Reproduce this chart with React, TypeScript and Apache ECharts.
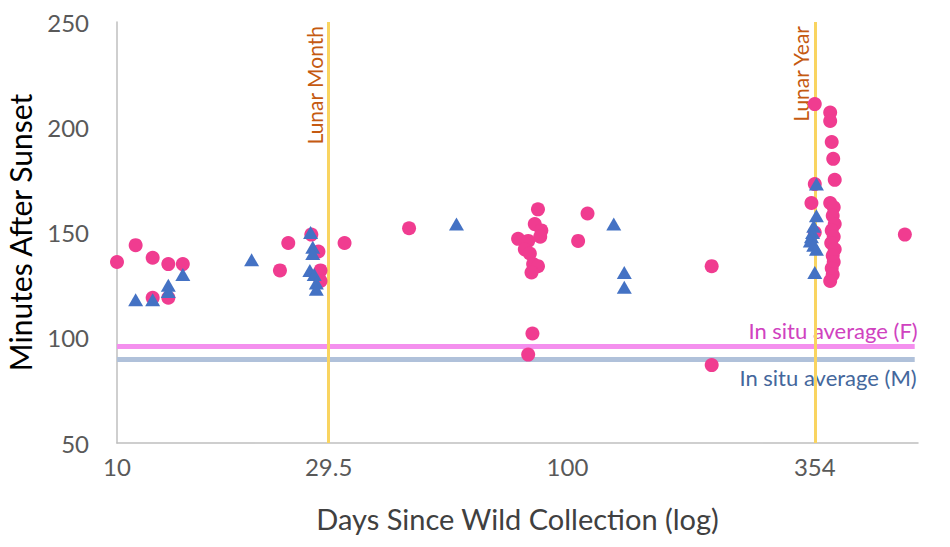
import React, { useEffect, useRef } from "react";
import * as echarts from "echarts";

const xTickValues = [10, 29.5, 100, 354];
const yTickMin = 50;
const yTickMax = 250;
const yTickStep = 50;

const lunarMonth = 29.5;
const lunarYear = 354;
const inSituFemale = 96;
const inSituMale = 90;

const femalePoints: [number, number][] = [
  [10, 136], [11, 144], [12, 138], [13, 135], [14, 135], [12, 119], [13, 119],
  [23, 132], [24, 145], [27, 149], [28, 141], [28.3, 132], [28.3, 127], [32, 145],
  [44.5, 152],
  [86, 161], [84.6, 154], [87.5, 151], [87, 148], [77.7, 147], [81.8, 146], [80.4, 142],
  [82.5, 140], [83.9, 135], [86, 134], [83.2, 131], [83.6, 102], [81.8, 92],
  [110.8, 159], [105.6, 146],
  [209, 134], [209, 87],
  [354, 211], [383, 207], [383, 203], [386, 193], [389, 185], [392, 175], [354, 173],
  [348, 164], [383, 164], [390, 162], [388, 158], [392, 154], [386, 151], [390, 148],
  [385, 145], [392, 142], [388, 139], [390, 136], [386, 133], [388, 130], [383, 127],
  [354, 150],
  [561, 149],
];

const malePoints: [number, number][] = [
  [11, 118], [12, 118], [13, 125], [13, 122], [14, 130],
  [19.9, 137],
  [26.9, 150], [27.2, 143], [27.2, 140], [26.8, 132], [27.4, 130], [27.7, 126], [27.7, 123],
  [56.7, 154], [126.7, 154], [133.7, 131], [133.7, 124],
  [357, 173], [357, 158], [352, 153], [350, 150], [348, 148], [346, 146], [352, 144],
  [357, 142], [354, 131],
];

const xMin = 10;
const xMax = 600;
const refLineEnd = 590;

const FONT = "Lato, 'Open Sans', sans-serif";

export default function App() {
  const ref = useRef<HTMLDivElement>(null);

  useEffect(() => {
    document.body.style.margin = "0";
    if (!ref.current) return;
    const chart = echarts.init(ref.current, undefined, { renderer: "svg" });
    const option: any = {
      animation: false,
      backgroundColor: "#ffffff",
      textStyle: { fontFamily: FONT },
      grid: {
        left: 117,
        right: 32,
        top: 22,
        bottom: 104,
        containLabel: false,
        outerBoundsMode: "none",
      },
      xAxis: {
        type: "log",
        logBase: 10,
        min: xMin,
        max: xMax,
        name: "Days Since Wild Collection (log)",
        nameLocation: "middle",
        nameGap: 61,
        nameTextStyle: { color: "#404040", fontSize: 29, fontFamily: FONT },
        axisLine: { show: true, onZero: false, lineStyle: { color: "#bfbfbf", width: 1.5 } },
        axisTick: { show: false },
        splitLine: { show: false },
        minorTick: { show: false },
        axisLabel: {
          customValues: xTickValues,
          formatter: (v: number) => String(Math.round(Number(v) * 10) / 10),
          color: "#595959",
          fontSize: 24,
          margin: 11,
          fontFamily: FONT,
        },
      },
      yAxis: {
        type: "value",
        min: yTickMin,
        max: yTickMax,
        interval: yTickStep,
        name: "Minutes After Sunset",
        nameLocation: "middle",
        nameGap: 82,
        nameTextStyle: { color: "#000000", fontSize: 30, fontFamily: FONT },
        axisLine: { show: true, onZero: false, lineStyle: { color: "#bfbfbf", width: 1.5 } },
        axisTick: { show: false },
        splitLine: { show: false },
        axisLabel: { color: "#595959", fontSize: 24, margin: 28, fontFamily: FONT },
      },
      series: [
        {
          type: "scatter",
          name: "refH",
          data: [],
          markLine: {
            z: 3,
            silent: true,
            symbol: ["none", "none"],
            data: [
              [
                {
                  coord: [xMin, inSituFemale],
                  lineStyle: { color: "#f490ee", width: 5, type: "solid" },
                  label: {
                    show: true,
                    position: "insideEndTop",
                    formatter: "In situ average (F)",
                    color: "#d042c0",
                    fontSize: 22,
                    fontFamily: FONT,
                    distance: 5,
                    offset: [8, 0],
                  },
                },
                { coord: [refLineEnd, inSituFemale] },
              ],
              [
                {
                  coord: [xMin, inSituMale],
                  lineStyle: { color: "#b0c1da", width: 5, type: "solid" },
                  label: {
                    show: true,
                    position: "insideEndBottom",
                    formatter: "In situ average (M)",
                    color: "#44679c",
                    fontSize: 22,
                    fontFamily: FONT,
                    distance: 8,
                    offset: [10, 0],
                  },
                },
                { coord: [refLineEnd, inSituMale] },
              ],
            ],
          },
        },
        {
          type: "scatter",
          name: "refV",
          data: [],
          markLine: {
            z: 4,
            silent: true,
            symbol: ["none", "none"],
            lineStyle: { color: "#f9d460", width: 3, type: "solid" },
            label: {
              show: true,
              position: "insideEndTop",
              color: "#c55a11",
              fontSize: 21,
              fontFamily: FONT,
              distance: 4,
            },
            data: [
              [
                { coord: [lunarMonth, yTickMin], label: { formatter: "Lunar Month" } },
                { coord: [lunarMonth, yTickMax] },
              ],
              [
                { coord: [lunarYear, yTickMin], label: { formatter: "Lunar Year" } },
                { coord: [lunarYear, yTickMax] },
              ],
            ],
          },
        },
        {
          type: "scatter",
          name: "Female",
          z: 10,
          symbol: "circle",
          symbolSize: 14,
          itemStyle: { color: "#f03c90", opacity: 1 },
          data: femalePoints,
        },
        {
          type: "scatter",
          name: "Male",
          z: 11,
          symbol: "triangle",
          symbolSize: [15, 13],
          itemStyle: { color: "#4472c4", opacity: 1 },
          data: malePoints,
        },
      ],
    };
    chart.setOption(option);
    return () => chart.dispose();
  }, []);

  return <div ref={ref} style={{ width: 950, height: 547 }} />;
}
